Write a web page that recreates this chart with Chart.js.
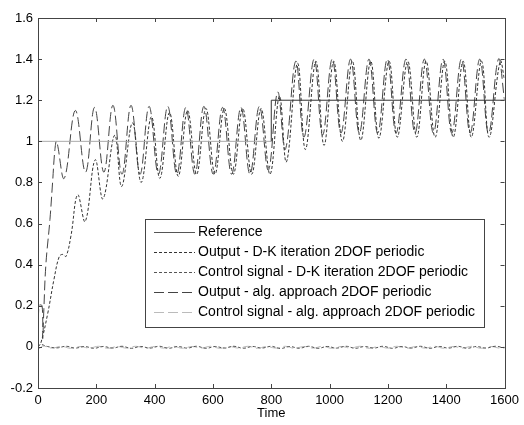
<!DOCTYPE html>
<html>
<head>
<meta charset="utf-8">
<script src="https://cdn.jsdelivr.net/npm/chart.js@4/dist/chart.umd.min.js"></script>
<style>
html,body{margin:0;padding:0;background:#fff}
</style>
</head>
<body>
<canvas id="c" width="524" height="425"></canvas>
<script>
// values: [time, value]
const refPts=[[0,1],[800,1],[800,1.2],[1600,1.2]];
const outDK=[[0,0],[10,0.02],[33,0.16],[55,0.33],[73,0.44],[85,0.45],[96,0.44],[113,0.54],[136,0.74],[162,0.61],[196,0.91],[223,0.72],[263,1.03],[287,0.78],[324,1.09],[354,0.8],[389,1.12],[418,0.82],[451,1.14],[481,0.83],[513,1.15],[544,0.84],[576,1.16],[607,0.84],[639,1.16],[670,0.84],[702,1.16],[733,0.84],[765,1.16],[796,0.84],[828,1.22],[852,0.9],[890,1.38],[917,0.96],[953,1.39],[981,0.98],[1014,1.39],[1044,1.0],[1078,1.39],[1107,1.005],[1141,1.39],[1169,1.015],[1204,1.39],[1232,1.02],[1268,1.39],[1299,1.02],[1331,1.39],[1362,1.02],[1395,1.39],[1424,1.02],[1458,1.39],[1486,1.02],[1521,1.39],[1547,1.02],[1585,1.39],[1600,1.3]];
const ctlDK=[[0,0],[8,0.012],[32,0.002],[64,-0.005],[96,0.003],[128,-0.006],[160,0.002],[192,-0.007],[224,0.002],[256,-0.006],[288,0.003],[320,-0.007],[352,0.002],[384,-0.006],[416,0.003],[448,-0.007],[480,0.002],[512,-0.006],[544,0.003],[576,-0.007],[608,0.002],[640,-0.006],[672,0.003],[704,-0.007],[736,0.002],[768,-0.006],[800,0.003],[832,-0.008],[864,0.002],[896,-0.007],[928,0.003],[960,-0.007],[992,0.002],[1024,-0.006],[1056,0.003],[1088,-0.007],[1120,0.002],[1152,-0.006],[1184,0.003],[1216,-0.007],[1248,0.002],[1280,-0.006],[1312,0.003],[1344,-0.007],[1376,0.002],[1408,-0.006],[1440,0.003],[1472,-0.007],[1504,0.002],[1536,-0.006],[1568,0.003],[1600,-0.005]];
const outAlg=[[0,0],[3,0.2],[14,0.2],[16,0.04],[20,0.18],[27,0.4],[41,0.62],[50,0.8],[58,0.96],[64,1.0],[90,0.82],[128,1.15],[163,0.85],[194,1.165],[226,0.85],[257,1.175],[288,0.84],[319,1.175],[350,0.84],[381,1.17],[413,0.84],[445,1.17],[476,0.84],[507,1.165],[538,0.84],[569,1.17],[601,0.84],[633,1.165],[664,0.84],[696,1.165],[727,0.84],[759,1.17],[790,0.86],[822,1.24],[848,0.96],[884,1.39],[912,1.02],[947,1.4],[976,1.03],[1009,1.4],[1039,1.04],[1072,1.4],[1102,1.04],[1135,1.4],[1165,1.04],[1198,1.4],[1228,1.04],[1262,1.4],[1293,1.04],[1325,1.4],[1356,1.04],[1389,1.4],[1419,1.04],[1452,1.4],[1482,1.04],[1515,1.4],[1545,1.04],[1579,1.4],[1600,1.2]];
const ctlAlg=[[0,0],[5,-0.008],[16,0.004],[48,-0.006],[80,0.003],[112,-0.007],[144,0.002],[176,-0.006],[208,0.003],[240,-0.007],[272,0.002],[304,-0.006],[336,0.003],[368,-0.007],[400,0.002],[432,-0.006],[464,0.003],[496,-0.007],[528,0.002],[560,-0.006],[592,0.003],[624,-0.007],[656,0.002],[688,-0.006],[720,0.003],[752,-0.007],[784,0.002],[816,-0.006],[848,0.003],[880,-0.007],[912,0.002],[944,-0.006],[976,0.003],[1008,-0.007],[1040,0.002],[1072,-0.006],[1104,0.003],[1136,-0.007],[1168,0.002],[1200,-0.006],[1232,0.003],[1264,-0.007],[1296,0.002],[1328,-0.006],[1360,0.003],[1392,-0.007],[1424,0.002],[1456,-0.006],[1488,0.003],[1520,-0.007],[1552,0.002],[1584,-0.006],[1600,0]];
const labels=['Reference','Output - D-K iteration 2DOF periodic','Control signal - D-K iteration 2DOF periodic','Output - alg. approach 2DOF periodic','Control signal - alg. approach 2DOF periodic'];
const xTicks=[0,200,400,600,800,1000,1200,1400,1600];
const yTicks=[-0.2,0,0.2,0.4,0.6,0.8,1,1.2,1.4,1.6];

const pts=a=>a.map(p=>({x:p[0],y:p[1]}));
const FONT="'Liberation Sans', Arial, sans-serif";
const styles=[
 {c:'#555',d:[],t:0},
 {c:'#333',d:[3,2],t:0.4},
 {c:'#555',d:[3,2],t:0.4},
 {c:'#444',d:[10,4],t:0.4},
 {c:'#bbb',d:[10,4],t:0.4}
];
const series=[refPts,outDK,ctlDK,outAlg,ctlAlg];

// matlab-like frame, inward ticks and boxed legend
const frame={id:'frame',afterDatasetsDraw(ch){
 const g=ch.ctx,a=ch.chartArea,x=ch.scales.x,y=ch.scales.y;
 g.save();
 g.strokeStyle='#444';g.lineWidth=1;
 g.strokeRect(Math.round(a.left)+0.5,Math.round(a.top)+0.5,Math.round(a.right-a.left),Math.round(a.bottom-a.top));
 g.beginPath();
 xTicks.forEach(v=>{const p=Math.round(x.getPixelForValue(v))+0.5;
  g.moveTo(p,a.bottom);g.lineTo(p,a.bottom-4);g.moveTo(p,a.top);g.lineTo(p,a.top+4);});
 yTicks.forEach(v=>{const p=Math.round(y.getPixelForValue(v))+0.5;
  g.moveTo(a.left,p);g.lineTo(a.left+4,p);g.moveTo(a.right,p);g.lineTo(a.right-4,p);});
 g.stroke();
 // legend
 const L=145,T=219,W=339,H=108;
 g.fillStyle='#fff';g.fillRect(L,T,W,H);
 g.strokeStyle='#444';g.strokeRect(L+0.5,T+0.5,W,H);
 g.font='14px '+FONT;g.textBaseline='middle';g.fillStyle='#000';
 labels.forEach((s,i)=>{
  const yy=T+13.5+i*20;
  g.beginPath();g.strokeStyle=styles[i].c;g.setLineDash(styles[i].d);
  g.moveTo(154,yy);g.lineTo(195,yy);g.stroke();g.setLineDash([]);
  g.fillText(s,198,yy);
 });
 g.restore();
}};

new Chart(document.getElementById('c'),{
 type:'line',
 data:{datasets:series.map((s,i)=>({
  label:labels[i],data:pts(s),borderColor:styles[i].c,borderDash:styles[i].d,
  borderWidth:1,pointRadius:0,tension:styles[i].t,fill:false,
  segment:i===0?{borderColor:c=>c.p1.parsed.y>1.1?'#333':'#aaa'}:undefined
 }))},
 options:{
  responsive:false,animation:false,
  layout:{padding:{left:0,right:17,top:18,bottom:0}},
  plugins:{legend:{display:false},tooltip:{enabled:false}},
  scales:{
   x:{type:'linear',min:0,max:1600,
    afterBuildTicks:s=>{s.ticks=xTicks.map(v=>({value:v}))},
    afterFit:s=>{s.height=37},
    grid:{display:false,drawTicks:false},border:{display:false},
    ticks:{padding:5,color:'#000',font:{size:13,family:FONT},callback:v=>String(v),maxRotation:0},
    title:{display:true,text:'Time',color:'#000',font:{size:13,family:FONT},padding:{top:0,bottom:4}}},
   y:{min:-0.2,max:1.6,
    afterBuildTicks:s=>{s.ticks=yTicks.map(v=>({value:v}))},
    afterFit:s=>{s.width=38},
    grid:{display:false,drawTicks:false},border:{display:false},
    ticks:{padding:5,color:'#000',font:{size:13,family:FONT},callback:v=>String(Number(v.toFixed(1)))}}
  }
 },
 plugins:[frame]
});
</script>
</body>
</html>
